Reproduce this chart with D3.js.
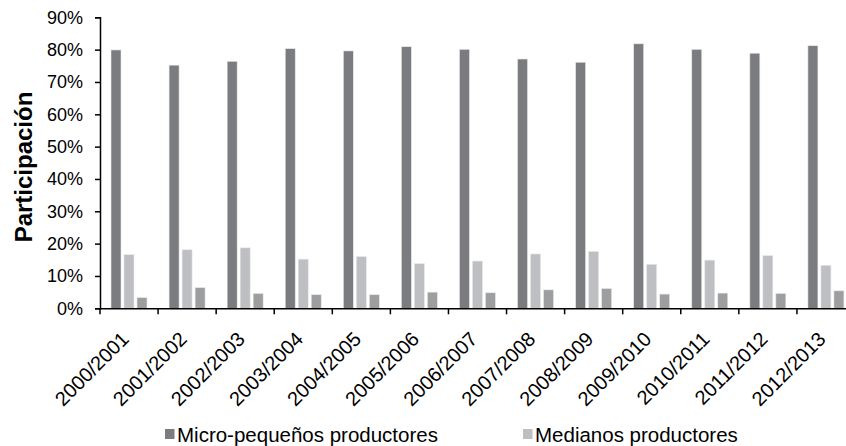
<!DOCTYPE html>
<html><head><meta charset="utf-8">
<script src="https://cdn.jsdelivr.net/npm/d3@7"></script>
<style>body{margin:0;background:#fff}svg{display:block}text{font-family:"Liberation Sans",Arial,sans-serif}</style>
</head><body>
<svg id="c" width="846" height="446"></svg>
<script>
const categories = ["2000/2001","2001/2002","2002/2003","2003/2004","2004/2005","2005/2006","2006/2007","2007/2008","2008/2009","2009/2010","2010/2011","2011/2012","2012/2013"];
const microPequenos = [79.9,75.2,76.4,80.3,79.6,80.9,80.1,77.1,76.1,81.8,80.1,78.9,81.2];
const medianos = [16.6,18.1,18.7,15.2,16.0,13.8,14.6,16.8,17.6,13.6,14.9,16.3,13.3];
const grandes = [3.3,6.4,4.6,4.2,4.2,5.0,4.8,5.7,6.1,4.4,4.7,4.6,5.4];
const seriesNames = ["Micro-pequeños productores","Medianos productores","Grandes productores"];
const seriesValues = [microPequenos, medianos, grandes];
const seriesColors = ["#7b7c80","#bebfc3","#9d9ea0"];
const yTicks = [0,10,20,30,40,50,60,70,80,90];

const svg = d3.select("#c");
const x0 = d3.scaleBand().domain(categories).range([100, 855]).padding(0);
const x1 = d3.scaleBand().domain([0,1,2]).range([11, 47]).paddingInner(3/13).paddingOuter(0);
const y = d3.scaleLinear().domain([0, 90]).range([308.3, 17.3]);

// bars
categories.forEach((c, i) => {
  const g = svg.append("g").attr("transform", `translate(${x0(c)},0)`);
  seriesValues.forEach((vals, s) => {
    g.append("rect")
      .attr("x", x1(s)).attr("width", x1.bandwidth())
      .attr("y", y(vals[i])).attr("height", y(0) - y(vals[i]))
      .attr("fill", seriesColors[s]).attr("stroke", "#e8e8ea").attr("stroke-width", 0.6);
  });
});

// y axis
const yAxis = svg.append("g").attr("transform", "translate(100,0)")
  .call(d3.axisLeft(y).tickValues(yTicks).tickFormat(d => d + "%").tickSize(5).tickSizeOuter(5).tickPadding(12));
yAxis.selectAll("text").attr("font-size", 18).attr("fill", "#000").attr("font-family", "Liberation Sans, Arial, sans-serif");
yAxis.selectAll("line").attr("stroke", "#000").attr("stroke-width", 1.5);
yAxis.select(".domain").attr("stroke", "#000").attr("stroke-width", 1.5);

// x axis
const xAxis = svg.append("g").attr("transform", `translate(0,${y(0)})`)
  .call(d3.axisBottom(x0).tickSize(0).tickFormat(""));
xAxis.select(".domain").attr("stroke", "#000").attr("stroke-width", 1.5);
const bounds = categories.map(c => x0(c));
svg.append("g").selectAll("line").data(bounds).join("line")
  .attr("x1", d => d).attr("x2", d => d).attr("y1", y(0)).attr("y2", y(0) + 6)
  .attr("stroke", "#000").attr("stroke-width", 1.5);

svg.append("g").selectAll("text").data(categories).join("text")
  .attr("transform", d => `translate(${x0(d) + x0.bandwidth()/2 + 1},${y(0) + 32}) rotate(-45)`)
  .attr("text-anchor", "end").attr("font-size", 20).attr("fill", "#000")
  .text(d => d);

// y title
svg.append("text").attr("transform", "translate(32,167) rotate(-90)")
  .attr("text-anchor", "middle").attr("font-size", 24).attr("font-weight", "bold").attr("fill", "#000")
  .text("Participación");

// legend
const legendItems = [{x: 165, i: 0}, {x: 523, i: 1}];
legendItems.forEach(it => {
  svg.append("rect").attr("x", it.x).attr("y", 429).attr("width", 9.5).attr("height", 10).attr("fill", seriesColors[it.i]);
  svg.append("text").attr("x", it.x + 12).attr("y", 441.5).attr("font-size", 20.5).attr("fill", "#000").text(seriesNames[it.i]);
});
</script>
</body></html>
